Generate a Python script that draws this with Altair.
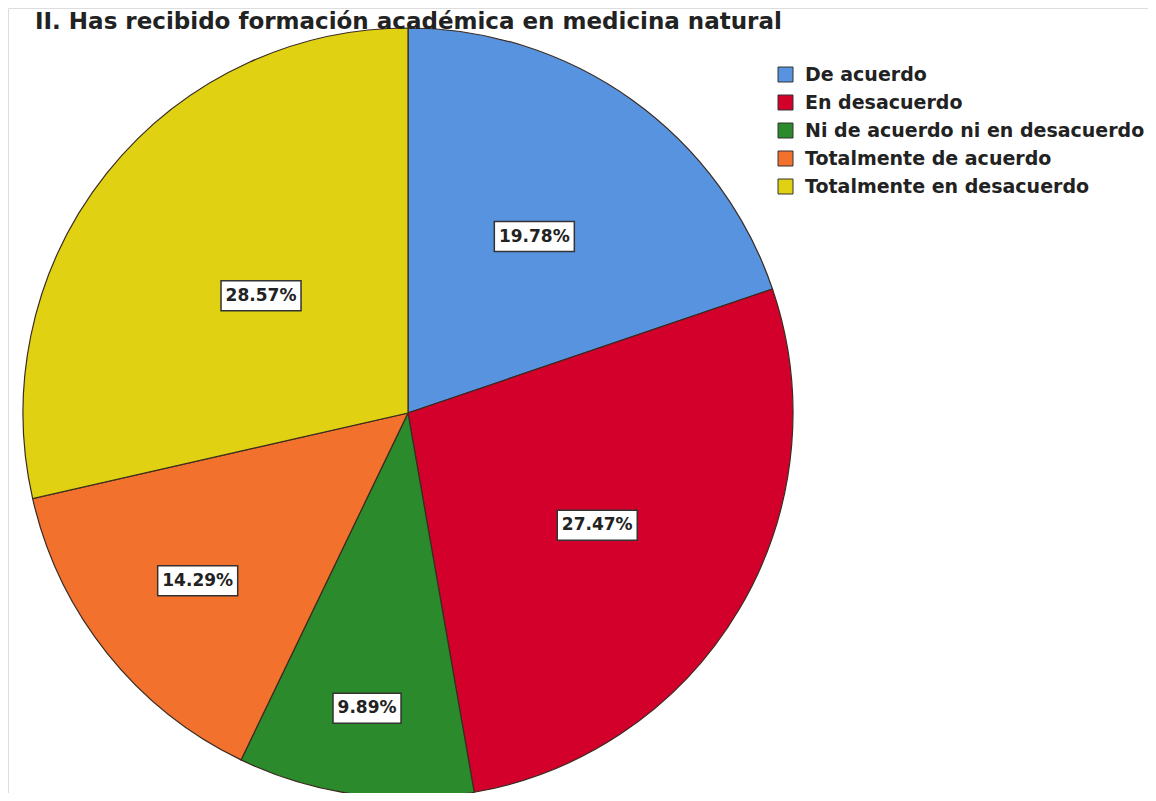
import altair as alt
import pandas as pd

# ---- data ----
title_text = "II. Has recibido formación académica en medicina natural"
categories = [
    "De acuerdo",
    "En desacuerdo",
    "Ni de acuerdo ni en desacuerdo",
    "Totalmente de acuerdo",
    "Totalmente en desacuerdo",
]
percentages = [19.78, 27.47, 9.89, 14.29, 28.57]

# ---- styling / layout (kept separate from the data) ----
colors = ["#5893e0", "#d4002c", "#2b8a2b", "#f2712c", "#e0d213"]
label_radius = [217, 220, 298, 269, 188]   # distance of each label box from centre
CX, CY, R = 400, 405, 385

df = pd.DataFrame({
    "categoria": categories,
    "porcentaje": percentages,
    "orden": list(range(len(categories))),
    "lr": label_radius,
})

base = alt.Chart(df)

pie = base.mark_arc(radius=R, stroke="#3a2a20", strokeWidth=1.2).encode(
    theta=alt.Theta("porcentaje:Q", stack=True),
    order=alt.Order("orden:Q"),
    color=alt.Color(
        "categoria:N",
        scale=alt.Scale(domain=categories, range=colors),
        legend=alt.Legend(
            title=None, orient="none", legendX=768, legendY=57,
            symbolType="square", symbolSize=225,
            symbolStrokeColor="#333", symbolStrokeWidth=1,
            labelFont="DejaVu Sans", labelFontWeight="bold", labelFontSize=19,
            labelColor="#222", rowPadding=8, labelOffset=10, labelLimit=400,
        ),
    ),
    x=alt.value(CX),
    y=alt.value(CY),
)

lab = base.transform_joinaggregate(
    total="sum(porcentaje)"
).transform_window(
    cum="sum(porcentaje)", sort=[alt.SortField("orden")], frame=[None, 0]
).transform_calculate(
    mid="(datum.cum - datum.porcentaje/2) / datum.total * 2 * PI",
    lx=f"{CX} + datum.lr * sin(datum.mid)",
    ly=f"{CY} - datum.lr * cos(datum.mid)",
    txt="format(datum.porcentaje, '.2f') + '%'",
).transform_calculate(
    hw="length(datum.txt) * 6 + 4",
).transform_calculate(
    bx1="datum.lx - datum.hw",
    bx2="datum.lx + datum.hw",
    by1="datum.ly - 15",
    by2="datum.ly + 15",
)

boxes = lab.mark_rect(fill="white", stroke="#333", strokeWidth=1.5).encode(
    x=alt.X("bx1:Q", scale=None, axis=None),
    x2="bx2:Q",
    y=alt.Y("by1:Q", scale=None, axis=None),
    y2="by2:Q",
)

texts = lab.mark_text(
    font="DejaVu Sans", fontWeight="bold", fontSize=17, color="#222", baseline="middle"
).encode(
    x=alt.X("lx:Q", scale=None, axis=None),
    y=alt.Y("ly:Q", scale=None, axis=None),
    text="txt:N",
)

title_mark = alt.Chart(pd.DataFrame({"t": [title_text]})).mark_text(
    font="DejaVu Sans", fontWeight="bold", fontSize=23, color="#222",
    align="left", baseline="alphabetic",
).encode(
    x=alt.value(27),
    y=alt.value(21),
    text="t:N",
)

chart = alt.layer(pie, boxes, texts, title_mark).properties(
    width=1140,
    height=785,
    autosize="none",
    padding={"left": 0, "top": 0, "right": 0, "bottom": 0},
).configure_view(stroke="transparent", strokeWidth=0).configure(background="white")

chart.save("out.html", embed_options={"renderer": "svg", "actions": False})
